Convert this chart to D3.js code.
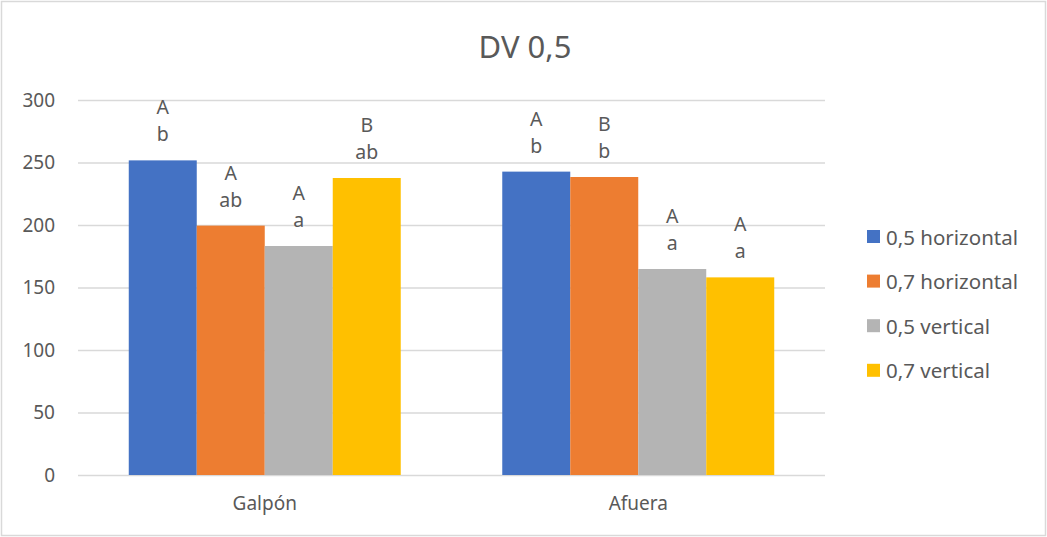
<!DOCTYPE html>
<html>
<head>
<meta charset="utf-8">
<script src="https://cdn.jsdelivr.net/npm/d3@7"></script>
<style>
  body { margin: 0; background: #fff; }
  svg text { font-family: "Noto Sans", "Open Sans", sans-serif; fill: #595959; }
</style>
</head>
<body>
<div id="chart"></div>
<script>
const width = 1047;
const height = 537;

const categories = ['Galpón', 'Afuera'];
const seriesNames = ['0,5 horizontal', '0,7 horizontal', '0,5 vertical', '0,7 vertical'];
const colors = ['#4472C4', '#ED7D31', '#B4B4B4', '#FFC000'];
// values per series, in category order
const values = [
    [251.7, 242.7],
    [199.5, 238.4],
    [183.2, 164.8],
    [237.6, 158.1]
];
// significance letters above each bar: [upper, lower]
const letters = [
    [['A', 'b'], ['A', 'b']],
    [['A', 'ab'], ['B', 'b']],
    [['A', 'a'], ['A', 'a']],
    [['B', 'ab'], ['A', 'a']]
];
const yTicks = [0, 50, 100, 150, 200, 250, 300];

const plot = { left: 78, right: 825, top: 100, bottom: 475 };

let svg = d3.select('#chart')
    .append('svg')
    .attr('width', width)
    .attr('height', height);

// chart frame
svg.append('rect')
   .attr('x', 1.5).attr('y', 1.5)
   .attr('width', width - 3).attr('height', height - 3)
   .attr('fill', '#fff')
   .attr('stroke', '#d9d9d9')
   .attr('stroke-width', 1.5);

const yScale = d3.scaleLinear().domain([0, 300]).range([plot.bottom, plot.top]);
const x0 = d3.scaleBand().domain(categories).range([plot.left, plot.right])
    .paddingInner(0.2718).paddingOuter(0.1359);
const x1 = d3.scaleBand().domain(d3.range(seriesNames.length)).range([0, x0.bandwidth()]);

// gridlines + y tick labels
const yAxis = d3.axisLeft(yScale)
    .tickValues(yTicks)
    .tickSize(-(plot.right - plot.left))
    .tickPadding(23);
svg.append('g')
   .attr('id', 'y-axis')
   .attr('transform', `translate(${plot.left},0)`)
   .call(yAxis)
   .call(g => g.select('.domain').remove())
   .call(g => g.selectAll('.tick line').attr('stroke', '#d9d9d9').attr('stroke-width', 1.5))
   .call(g => g.selectAll('.tick text').attr('font-size', 19).style('fill', '#595959'));

// x labels
const xAxis = d3.axisBottom(x0).tickSize(0).tickPadding(22);
svg.append('g')
   .attr('id', 'x-axis')
   .attr('transform', `translate(0,${plot.bottom})`)
   .call(xAxis)
   .call(g => g.select('.domain').remove())
   .call(g => g.selectAll('.tick text').attr('font-size', 19).style('fill', '#595959'));

// bars
const bars = [];
categories.forEach((c, ci) => {
    seriesNames.forEach((s, si) => {
        bars.push({ cat: c, si: si, value: values[si][ci], lab: letters[si][ci] });
    });
});

svg.append('g')
   .selectAll('rect')
   .data(bars)
   .enter()
   .append('rect')
   .attr('class', 'bar')
   .attr('x', d => x0(d.cat) + x1(d.si))
   .attr('y', d => yScale(d.value))
   .attr('width', x1.bandwidth())
   .attr('height', d => plot.bottom - yScale(d.value))
   .attr('fill', d => colors[d.si]);

// letter labels
let labels = svg.append('g')
   .selectAll('text')
   .data(bars)
   .enter()
   .append('text')
   .attr('text-anchor', 'middle')
   .attr('font-size', 19.5)
   .attr('x', d => x0(d.cat) + x1(d.si) + x1.bandwidth() / 2);
labels.append('tspan')
   .attr('x', d => x0(d.cat) + x1(d.si) + x1.bandwidth() / 2)
   .attr('y', d => yScale(d.value) - 46)
   .text(d => d.lab[0]);
labels.append('tspan')
   .attr('x', d => x0(d.cat) + x1(d.si) + x1.bandwidth() / 2)
   .attr('y', d => yScale(d.value) - 19)
   .text(d => d.lab[1]);

// title
svg.append('text')
   .attr('x', 525)
   .attr('y', 58)
   .attr('text-anchor', 'middle')
   .attr('font-size', 31)
   .text('DV 0,5');

// legend
let legend = svg.append('g')
   .selectAll('g')
   .data(seriesNames)
   .enter()
   .append('g')
   .attr('transform', (d, i) => `translate(867,${237 + i * 44.6})`);
legend.append('rect')
   .attr('x', 0).attr('y', -7)
   .attr('width', 13).attr('height', 13)
   .attr('fill', (d, i) => colors[i]);
legend.append('text')
   .attr('x', 19)
   .attr('y', 7.5)
   .attr('font-size', 20.5)
   .text(d => d);
</script>
</body>
</html>
